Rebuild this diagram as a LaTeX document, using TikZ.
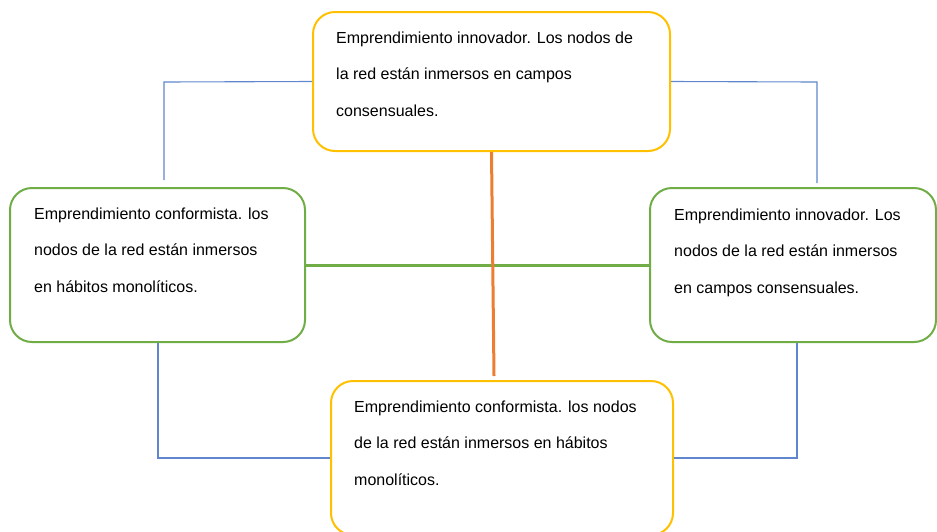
\documentclass[tikz,border=0pt]{standalone}
\usepackage{fontspec}
\setmainfont{Liberation Sans}
\usetikzlibrary{calc}
\definecolor{cyellow}{HTML}{FFC000}
\definecolor{cgreen}{HTML}{70AD47}
\definecolor{cblue}{HTML}{4472C4}
\definecolor{corange}{HTML}{ED7D31}
\tikzset{
  box/.style={draw, line width=2pt, rounded corners=22pt, fill=white, inner sep=0pt},
  ybox/.style={box, draw=cyellow},
  gbox/.style={box, draw=cgreen},
  txt/.style={anchor=base west, align=left, inner sep=0pt, text=black,
    font=\fontsize{16}{36.6}\selectfont},
  thin/.style={draw=cblue!85, line width=1.1pt},
  thick/.style={line width=3pt}
}
\begin{document}
\begin{tikzpicture}[x=1pt,y=-1pt]
\useasboundingbox (0,0) rectangle (937,531);
\clip (0,0) rectangle (937,531);
% coordinates for free ends
\coordinate (tl) at (164,82);
\coordinate (tle) at (164,180);
\coordinate (tr) at (817,82);
\coordinate (tre) at (817,183);
\coordinate (bl) at (158,458);
\coordinate (br) at (797,458);
\coordinate (oe) at (494,376);
% boxes
\node[ybox, minimum width=357pt, minimum height=139pt] (top) at (491.5,81.5) {};
\node[gbox, minimum width=295pt, minimum height=154pt] (left) at (157.5,265) {};
\node[gbox, minimum width=286pt, minimum height=154pt] (right) at (793,265) {};
\node[ybox, minimum width=342pt, minimum height=154pt] (bottom) at (502,458) {};
% connectors
\draw[thin] (top.west) -- (tl) -- (tle);
\draw[thin] (top.east) -- (tr) -- (tre);
\draw[thin] (left.south -| bl) -- (bl) -- (bottom.west);
\draw[thin] (bottom.east) -- (br) -- (right.south -| br);
\draw[thick, cgreen] (left.east) -- (right.west);
\draw[thick, corange] (top.south) -- (oe);
% texts (anchored at the baseline of the last line)
\node[txt] (ttop) at (336,116.2) {Emprendimiento innovador. Los nodos de\\la red están inmersos en campos\\consensuales.};
\node[txt] (tleft) at (34,292.2) {Emprendimiento conformista. los\\nodos de la red están inmersos\\en hábitos monolíticos.};
\node[txt] (tright) at (674,293.2) {Emprendimiento innovador. Los\\nodos de la red están inmersos\\en campos consensuales.};
\node[txt] (tbottom) at (354,485.2) {Emprendimiento conformista. los nodos\\de la red están inmersos en hábitos\\monolíticos.};
\end{tikzpicture}
\end{document}
